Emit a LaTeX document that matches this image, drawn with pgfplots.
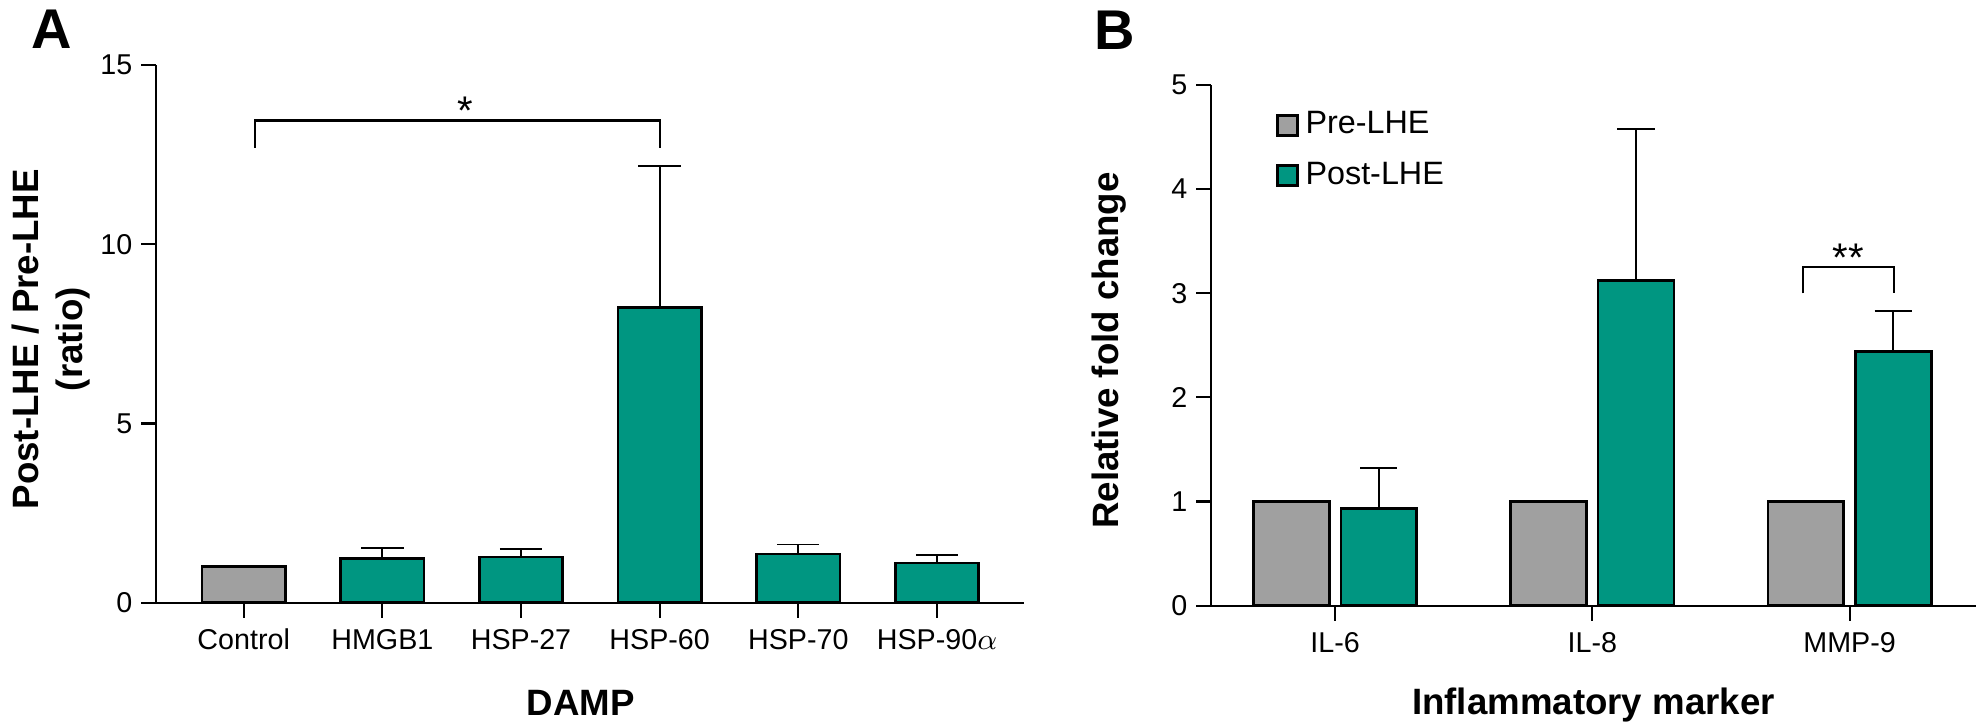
\documentclass[border=0pt]{standalone}
\usepackage{pgfplots}
\pgfplotsset{compat=1.18}
\usepackage{fontspec}
\setmainfont{Liberation Sans}
\definecolor{tealc}{RGB}{0,150,129}
\definecolor{grayc}{RGB}{160,160,160}
\pgfplotsset{
  prism/.style={
    scale only axis,
    axis x line*=bottom,
    axis y line*=left,
    axis line style={line width=0.65pt,-},
    every tick/.style={line width=0.65pt, black},
    tick align=outside,
    major tick length=4.5pt,
    enlargelimits=false,
    ymin=0,
    ybar,
    /pgf/number format/assume math mode=true,
    ticklabel style={font=\fontsize{8.6}{10}\selectfont},
    xticklabel style={anchor=base, yshift=-9.5pt},
    yticklabel style={inner sep=0pt, xshift=-2.5pt},
    label style={font=\bfseries\fontsize{11}{13.1}\selectfont},
    xlabel style={anchor=base},
    ylabel style={anchor=center, align=center},
  },
  barA/.style={draw=black, line width=0.8pt, bar shift=0pt},
  sq/.style={legend image code/.code={\draw[##1, line width=0.8pt] (0pt,-3pt) rectangle (6pt,3pt);}},
}
\begin{document}
\begin{tikzpicture}
\useasboundingbox (0,0) rectangle (594.9pt,218.4pt);
\begin{axis}[prism,
  at={(46.9pt,37.6pt)}, anchor=south west,
  width=260.4pt, height=161.3pt,
  xmin=-0.63, xmax=5.63, ymax=15,
  ytick={0,5,10,15},
  xtick={0,1,2,3,4,5},
  xticklabels={Control,HMGB1,HSP-27,HSP-60,HSP-70,HSP-90$\alpha$},
  bar width=0.6,
  xlabel={DAMP},
  xlabel style={at={(axis description cs:0.489,-0.209)}},
  ylabel={Post-LHE / Pre-LHE\\(ratio)},
  ylabel style={at={(axis description cs:-0.1215,0.49)}},
]
\addplot[barA, fill=grayc] coordinates {(0,1)};
\addplot[barA, fill=tealc,
  error bars/.cd, y dir=plus, y explicit,
  error bar style={line width=0.55pt, black},
  error mark options={line width=0.55pt, mark size=6.35pt, rotate=90}]
  table[x=x,y=y,y error=e] {
x y e
1 1.24 0.28
2 1.27 0.22
3 8.23 3.95
4 1.36 0.26
5 1.11 0.22
};
\draw[line width=0.65pt] (axis cs:0.08,12.69) -- (axis cs:0.08,13.45) -- (axis cs:3.0,13.45) -- (axis cs:3.0,12.69);
\node[anchor=base, inner sep=0pt, font=\fontsize{12}{12}\selectfont] at (axis cs:1.6,13.33) {*};
\end{axis}
\begin{axis}[prism,
  at={(363.4pt,36.7pt)}, anchor=south west,
  width=229.3pt, height=156.2pt,
  xmin=-0.481, xmax=2.49, ymax=5,
  ytick={0,1,2,3,4,5},
  xtick={0,1,2},
  xticklabels={IL-6,IL-8,MMP-9},
  bar width=0.295,
  xlabel={Inflammatory marker},
  xlabel style={at={(axis description cs:0.5,-0.21)}},
  ylabel={Relative fold change},
  ylabel style={at={(axis description cs:-0.134,0.49)}},
  legend style={draw=none, fill=none, at={(axis description cs:0.084,0.963)}, anchor=north west,
    font=\fontsize{9.7}{12}\selectfont, inner sep=0pt, row sep=3pt},
  legend cell align=left,
]
\addplot[barA, fill=grayc, sq] table[x=x,y=y] {
x y
-0.17 1
0.83 1
1.83 1
};
\addlegendentry{Pre-LHE}
\addplot[barA, fill=tealc, sq,
  error bars/.cd, y dir=plus, y explicit,
  error bar style={line width=0.55pt, black},
  error mark options={line width=0.55pt, mark size=5.6pt, rotate=90}]
  table[x=x,y=y,y error=e] {
x y e
0.17 0.93 0.39
1.17 3.12 1.46
2.17 2.44 0.39
};
\addlegendentry{Post-LHE}
\draw[line width=0.65pt] (axis cs:1.82,3.0) -- (axis cs:1.82,3.253) -- (axis cs:2.172,3.253) -- (axis cs:2.172,3.0);
\node[anchor=base, inner sep=0pt, font=\fontsize{12}{12}\selectfont] at (axis cs:1.995,3.21) {**};
\end{axis}
\node[anchor=base west, inner sep=0pt, font=\bfseries\fontsize{16.8}{16.8}\selectfont] at (9.3pt,203.9pt) {A};
\node[anchor=base west, inner sep=0pt, font=\bfseries\fontsize{16.8}{16.8}\selectfont] at (328.2pt,203.6pt) {B};
\end{tikzpicture}
\end{document}
